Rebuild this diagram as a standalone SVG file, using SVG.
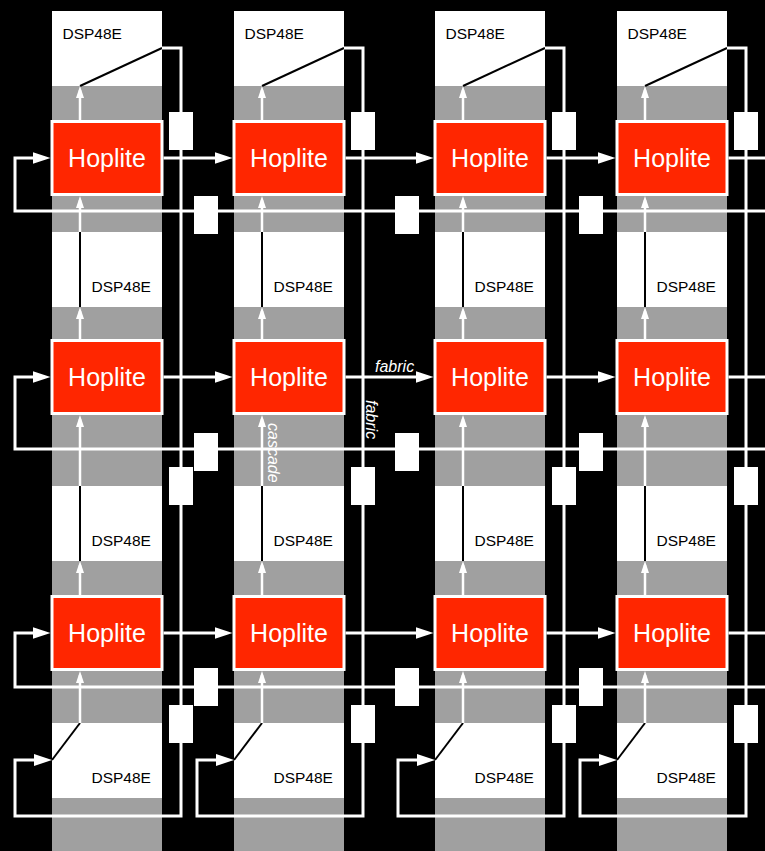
<svg xmlns="http://www.w3.org/2000/svg" width="765" height="851" viewBox="0 0 765 851">
<style>
.band{fill:#a0a0a0}
.dsp{fill:#ffffff}
.int{stroke:#000;stroke-width:2;fill:none}
.dt{font-family:"Liberation Sans",Arial,sans-serif;font-size:15.5px;fill:#000}
.hop{fill:#ff2600;stroke:#fff;stroke-width:3}
.ht{font-family:"Liberation Sans",Arial,sans-serif;font-size:25px;fill:#fff;text-anchor:middle}
.fab{stroke:#fff;stroke-width:3;fill:none}
.cas{stroke:#fff;stroke-width:2.5;fill:none}
.buf{fill:#fff}
.lbl{font-family:"Liberation Sans",Arial,sans-serif;font-size:16px;font-style:italic;fill:#fff}
</style>
<defs>
<marker id="af" markerUnits="userSpaceOnUse" markerWidth="18" markerHeight="12" refX="12" refY="6" orient="auto"><path d="M0,0 L18,6 L0,12 z" fill="#fff"/></marker>
<marker id="ac" markerUnits="userSpaceOnUse" markerWidth="12" markerHeight="8" refX="8" refY="4" orient="auto"><path d="M0,0 L12,4 L0,8 z" fill="#fff"/></marker>
</defs>
<rect width="765" height="851" fill="#000"/>
<g id="bands">
<rect class="band" x="52" y="11" width="110" height="840"/>
<rect class="band" x="234" y="11" width="110" height="840"/>
<rect class="band" x="435" y="11" width="110" height="840"/>
<rect class="band" x="617" y="11" width="110" height="840"/>
</g>
<!-- DSP nodes -->
<g id="dsp-a1"><rect class="dsp" x="52" y="11" width="110" height="75"/><path class="int" d="M80 86 L162 48"/><text class="dt" x="62.5" y="39">DSP48E</text></g>
<g id="dsp-a2"><rect class="dsp" x="234" y="11" width="110" height="75"/><path class="int" d="M262 86 L344 48"/><text class="dt" x="244.5" y="39">DSP48E</text></g>
<g id="dsp-a3"><rect class="dsp" x="435" y="11" width="110" height="75"/><path class="int" d="M463 86 L545 48"/><text class="dt" x="445.5" y="39">DSP48E</text></g>
<g id="dsp-a4"><rect class="dsp" x="617" y="11" width="110" height="75"/><path class="int" d="M645 86 L727 48"/><text class="dt" x="627.5" y="39">DSP48E</text></g>
<g id="dsp-b1"><rect class="dsp" x="52" y="232" width="110" height="75"/><path class="int" d="M80 307 V232"/><text class="dt" x="91.5" y="292">DSP48E</text></g>
<g id="dsp-b2"><rect class="dsp" x="234" y="232" width="110" height="75"/><path class="int" d="M262 307 V232"/><text class="dt" x="273.5" y="292">DSP48E</text></g>
<g id="dsp-b3"><rect class="dsp" x="435" y="232" width="110" height="75"/><path class="int" d="M463 307 V232"/><text class="dt" x="474.5" y="292">DSP48E</text></g>
<g id="dsp-b4"><rect class="dsp" x="617" y="232" width="110" height="75"/><path class="int" d="M645 307 V232"/><text class="dt" x="656.5" y="292">DSP48E</text></g>
<g id="dsp-c1"><rect class="dsp" x="52" y="486" width="110" height="75"/><path class="int" d="M80 561 V486"/><text class="dt" x="91.5" y="546">DSP48E</text></g>
<g id="dsp-c2"><rect class="dsp" x="234" y="486" width="110" height="75"/><path class="int" d="M262 561 V486"/><text class="dt" x="273.5" y="546">DSP48E</text></g>
<g id="dsp-c3"><rect class="dsp" x="435" y="486" width="110" height="75"/><path class="int" d="M463 561 V486"/><text class="dt" x="474.5" y="546">DSP48E</text></g>
<g id="dsp-c4"><rect class="dsp" x="617" y="486" width="110" height="75"/><path class="int" d="M645 561 V486"/><text class="dt" x="656.5" y="546">DSP48E</text></g>
<g id="dsp-d1"><rect class="dsp" x="52" y="723" width="110" height="75"/><path class="int" d="M80 723 L52 760"/><text class="dt" x="91.5" y="783">DSP48E</text></g>
<g id="dsp-d2"><rect class="dsp" x="234" y="723" width="110" height="75"/><path class="int" d="M262 723 L234 760"/><text class="dt" x="273.5" y="783">DSP48E</text></g>
<g id="dsp-d3"><rect class="dsp" x="435" y="723" width="110" height="75"/><path class="int" d="M463 723 L435 760"/><text class="dt" x="474.5" y="783">DSP48E</text></g>
<g id="dsp-d4"><rect class="dsp" x="617" y="723" width="110" height="75"/><path class="int" d="M645 723 L617 760"/><text class="dt" x="656.5" y="783">DSP48E</text></g>
<!-- connectors -->
<g id="connectors">
<g id="col-wires">
<path class="fab" d="M162 48 H181 V816 H15 V760 H46" marker-end="url(#af)"/>
<path class="fab" d="M344 48 H363 V816 H197 V760 H228" marker-end="url(#af)"/>
<path class="fab" d="M545 48 H564 V816 H398 V760 H429" marker-end="url(#af)"/>
<path class="fab" d="M727 48 H746 V816 H580 V760 H611" marker-end="url(#af)"/>
</g>
<g id="row-wires">
<path class="fab" d="M766 211 H15 V158 H44.5" marker-end="url(#af)"/>
<path class="fab" d="M163.5 158 H226.5" marker-end="url(#af)"/>
<path class="fab" d="M345.5 158 H427.5" marker-end="url(#af)"/>
<path class="fab" d="M546.5 158 H609.5" marker-end="url(#af)"/>
<path class="fab" d="M728.5 158 H766"/>
<path class="fab" d="M766 449 H15 V377 H44.5" marker-end="url(#af)"/>
<path class="fab" d="M163.5 377 H226.5" marker-end="url(#af)"/>
<path class="fab" d="M345.5 377 H427.5" marker-end="url(#af)"/>
<path class="fab" d="M546.5 377 H609.5" marker-end="url(#af)"/>
<path class="fab" d="M728.5 377 H766"/>
<path class="fab" d="M766 687 H15 V633 H44.5" marker-end="url(#af)"/>
<path class="fab" d="M163.5 633 H226.5" marker-end="url(#af)"/>
<path class="fab" d="M345.5 633 H427.5" marker-end="url(#af)"/>
<path class="fab" d="M546.5 633 H609.5" marker-end="url(#af)"/>
<path class="fab" d="M728.5 633 H766"/>
</g>
<g id="cascade-wires">
<path class="cas" d="M80 120 V90" marker-end="url(#ac)"/>
<path class="cas" d="M80 232 V200" marker-end="url(#ac)"/>
<path class="cas" d="M80 339 V311" marker-end="url(#ac)"/>
<path class="cas" d="M80 486 V419" marker-end="url(#ac)"/>
<path class="cas" d="M80 595 V565" marker-end="url(#ac)"/>
<path class="cas" d="M80 723 V675" marker-end="url(#ac)"/>
<path class="cas" d="M262 120 V90" marker-end="url(#ac)"/>
<path class="cas" d="M262 232 V200" marker-end="url(#ac)"/>
<path class="cas" d="M262 339 V311" marker-end="url(#ac)"/>
<path class="cas" d="M262 486 V419" marker-end="url(#ac)"/>
<path class="cas" d="M262 595 V565" marker-end="url(#ac)"/>
<path class="cas" d="M262 723 V675" marker-end="url(#ac)"/>
<path class="cas" d="M463 120 V90" marker-end="url(#ac)"/>
<path class="cas" d="M463 232 V200" marker-end="url(#ac)"/>
<path class="cas" d="M463 339 V311" marker-end="url(#ac)"/>
<path class="cas" d="M463 486 V419" marker-end="url(#ac)"/>
<path class="cas" d="M463 595 V565" marker-end="url(#ac)"/>
<path class="cas" d="M463 723 V675" marker-end="url(#ac)"/>
<path class="cas" d="M645 120 V90" marker-end="url(#ac)"/>
<path class="cas" d="M645 232 V200" marker-end="url(#ac)"/>
<path class="cas" d="M645 339 V311" marker-end="url(#ac)"/>
<path class="cas" d="M645 486 V419" marker-end="url(#ac)"/>
<path class="cas" d="M645 595 V565" marker-end="url(#ac)"/>
<path class="cas" d="M645 723 V675" marker-end="url(#ac)"/>
</g>
<g id="labels">
<text class="lbl" x="375" y="372">fabric</text>
<text class="lbl" transform="translate(366 400) rotate(90)">fabric</text>
<text class="lbl" transform="translate(268 423) rotate(90)">cascade</text>
</g>
</g>
<!-- Hoplite nodes -->
<g id="hop-a1"><rect class="hop" x="52" y="121.5" width="110" height="73"/><text class="ht" x="107" y="167">Hoplite</text></g>
<g id="hop-a2"><rect class="hop" x="234" y="121.5" width="110" height="73"/><text class="ht" x="289" y="167">Hoplite</text></g>
<g id="hop-a3"><rect class="hop" x="435" y="121.5" width="110" height="73"/><text class="ht" x="490" y="167">Hoplite</text></g>
<g id="hop-a4"><rect class="hop" x="617" y="121.5" width="110" height="73"/><text class="ht" x="672" y="167">Hoplite</text></g>
<g id="hop-b1"><rect class="hop" x="52" y="340.5" width="110" height="73"/><text class="ht" x="107" y="386">Hoplite</text></g>
<g id="hop-b2"><rect class="hop" x="234" y="340.5" width="110" height="73"/><text class="ht" x="289" y="386">Hoplite</text></g>
<g id="hop-b3"><rect class="hop" x="435" y="340.5" width="110" height="73"/><text class="ht" x="490" y="386">Hoplite</text></g>
<g id="hop-b4"><rect class="hop" x="617" y="340.5" width="110" height="73"/><text class="ht" x="672" y="386">Hoplite</text></g>
<g id="hop-c1"><rect class="hop" x="52" y="596.5" width="110" height="73"/><text class="ht" x="107" y="642">Hoplite</text></g>
<g id="hop-c2"><rect class="hop" x="234" y="596.5" width="110" height="73"/><text class="ht" x="289" y="642">Hoplite</text></g>
<g id="hop-c3"><rect class="hop" x="435" y="596.5" width="110" height="73"/><text class="ht" x="490" y="642">Hoplite</text></g>
<g id="hop-c4"><rect class="hop" x="617" y="596.5" width="110" height="73"/><text class="ht" x="672" y="642">Hoplite</text></g>
<!-- pipeline buffers -->
<g id="vbuf-1a"><rect class="buf" x="169" y="112" width="24" height="38"/></g>
<g id="vbuf-1b"><rect class="buf" x="169" y="467" width="24" height="38"/></g>
<g id="vbuf-1c"><rect class="buf" x="169" y="705" width="24" height="38"/></g>
<g id="vbuf-2a"><rect class="buf" x="351" y="112" width="24" height="38"/></g>
<g id="vbuf-2b"><rect class="buf" x="351" y="467" width="24" height="38"/></g>
<g id="vbuf-2c"><rect class="buf" x="351" y="705" width="24" height="38"/></g>
<g id="vbuf-3a"><rect class="buf" x="552" y="112" width="24" height="38"/></g>
<g id="vbuf-3b"><rect class="buf" x="552" y="467" width="24" height="38"/></g>
<g id="vbuf-3c"><rect class="buf" x="552" y="705" width="24" height="38"/></g>
<g id="vbuf-4a"><rect class="buf" x="734" y="112" width="24" height="38"/></g>
<g id="vbuf-4b"><rect class="buf" x="734" y="467" width="24" height="38"/></g>
<g id="vbuf-4c"><rect class="buf" x="734" y="705" width="24" height="38"/></g>
<g id="hbuf-a1"><rect class="buf" x="194" y="196" width="24" height="38"/></g>
<g id="hbuf-a2"><rect class="buf" x="395" y="196" width="24" height="38"/></g>
<g id="hbuf-a3"><rect class="buf" x="579" y="196" width="24" height="38"/></g>
<g id="hbuf-b1"><rect class="buf" x="194" y="433" width="24" height="38"/></g>
<g id="hbuf-b2"><rect class="buf" x="395" y="433" width="24" height="38"/></g>
<g id="hbuf-b3"><rect class="buf" x="579" y="433" width="24" height="38"/></g>
<g id="hbuf-c1"><rect class="buf" x="194" y="668" width="24" height="38"/></g>
<g id="hbuf-c2"><rect class="buf" x="395" y="668" width="24" height="38"/></g>
<g id="hbuf-c3"><rect class="buf" x="579" y="668" width="24" height="38"/></g>
</svg>
